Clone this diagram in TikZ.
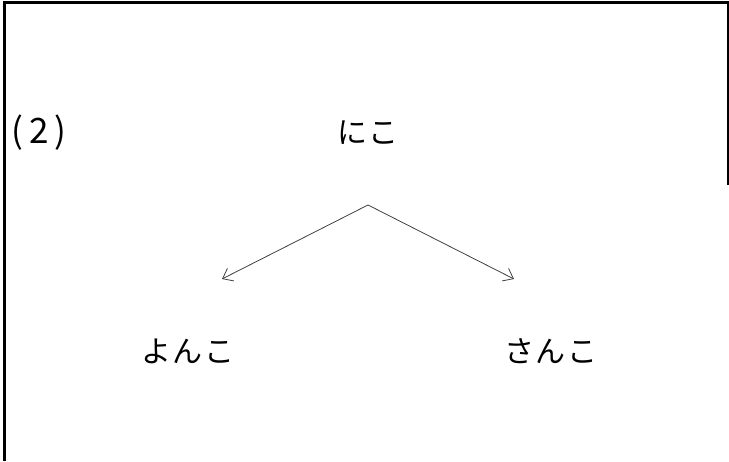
\documentclass[tikz,border=0pt]{standalone}
\usepackage{fontspec}
\setmainfont{Noto Sans CJK JP}
\usetikzlibrary{arrows.meta}
\begin{document}
\begin{tikzpicture}[x=1pt,y=-1pt,
  kana/.style={inner sep=0pt,font=\fontsize{30}{32}\selectfont},
  num/.style={inner sep=0pt,font=\fontsize{35}{37}\selectfont},
  conn/.style={draw=black!75,line width=0.8pt,-{Straight Barb[length=9pt,width=14pt,line width=0.8pt]}},
  frame/.style={line width=3pt}]
\useasboundingbox (0,0) rectangle (729,461);
\draw[frame] (4.5,461) -- (4.5,2.5) -- (729,2.5);
\draw[line width=2pt] (728,2.5) -- (728,185);
\node[num] (lab) at (39,133) {(\hspace{6pt}2\hspace{6pt})};
\node[kana] (top) at (368,133) {に\hspace{2pt}こ};
\node[kana] (left) at (188,351) {よ\hspace{2pt}ん\hspace{2pt}こ};
\node[kana] (right) at (551,351) {さ\hspace{2pt}ん\hspace{2pt}こ};
\coordinate (s) at (368,205);
\coordinate (l) at (222,279);
\coordinate (r) at (514,279);
\draw[conn] (s) -- (l);
\draw[conn] (s) -- (r);
\end{tikzpicture}
\end{document}
